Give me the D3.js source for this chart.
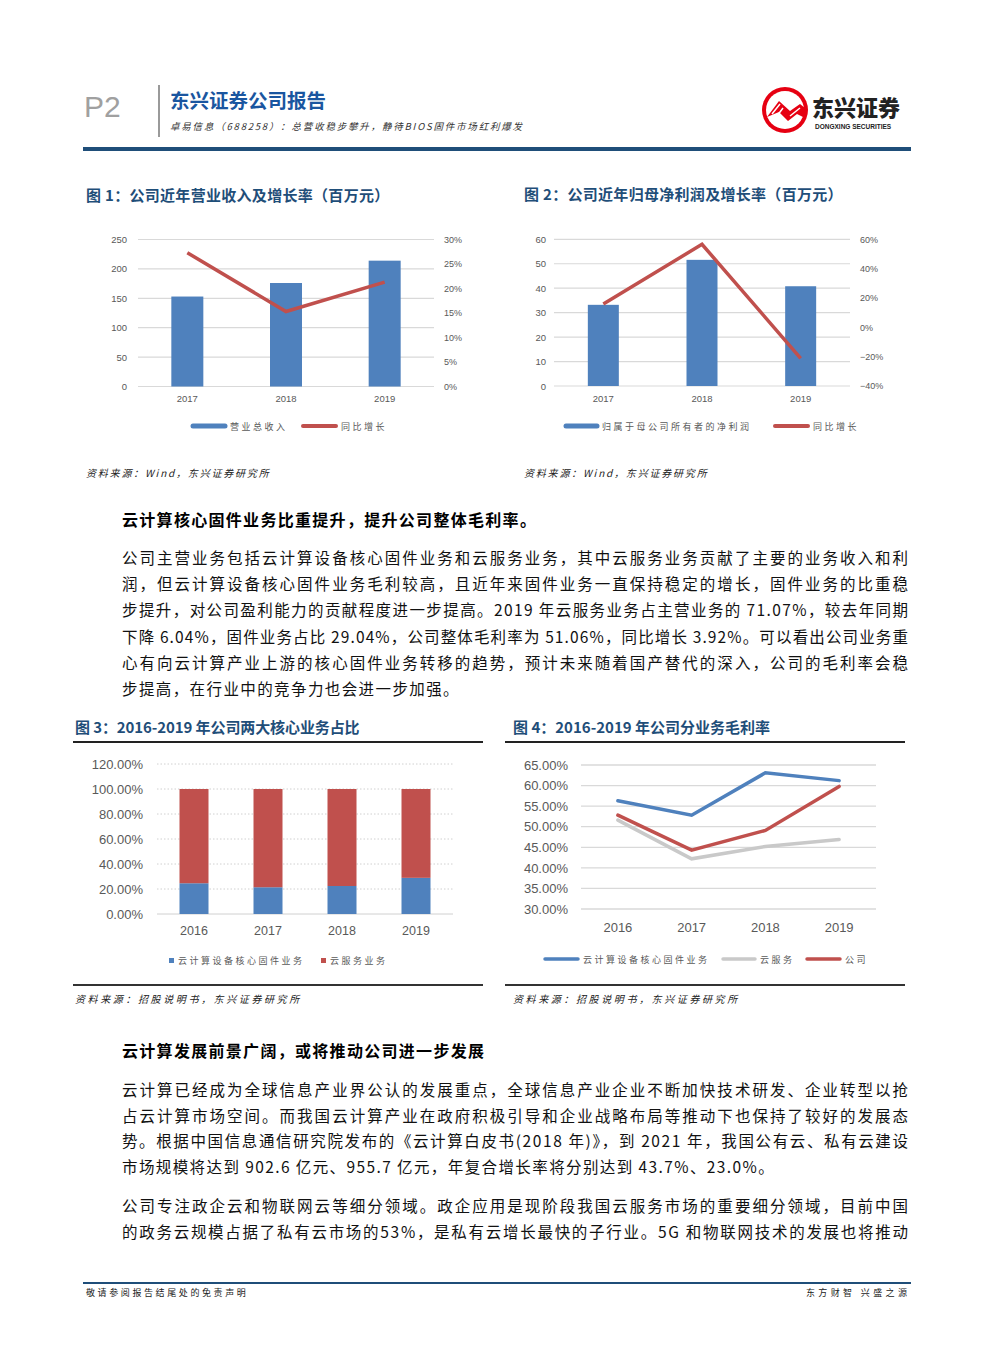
<!DOCTYPE html>
<html><head><meta charset="utf-8">
<script src="https://cdn.jsdelivr.net/npm/d3@7"></script>
<style>
html,body{margin:0;padding:0;background:#fff;}
svg{display:block;}
text{font-family:"Noto Sans CJK SC","Noto Sans",sans-serif;}
</style></head><body>
<svg id="page" width="993" height="1346"></svg>
<script>
// ---------- data ----------
const fig1Years = ["2017", "2018", "2019"];
const fig1Revenue = [153, 176, 214];
const fig1Growth = [27.3, 15.3, 21.3];
const fig1LeftTicks = [0, 50, 100, 150, 200, 250];
const fig1RightTicks = [0, 5, 10, 15, 20, 25, 30];

const fig2Years = ["2017", "2018", "2019"];
const fig2Profit = [33.2, 51.6, 40.8];
const fig2Growth = [15.9, 56.6, -21.1];
const fig2LeftTicks = [0, 10, 20, 30, 40, 50, 60];
const fig2RightTicks = [-40, -20, 0, 20, 40, 60];

const fig3Years = ["2016", "2017", "2018", "2019"];
const fig3Firmware = [24.6, 21.4, 22.4, 28.93];
const fig3Cloud = [75.4, 78.6, 77.6, 71.07];
const fig3Ticks = [0, 20, 40, 60, 80, 100, 120];

const fig4Years = ["2016", "2017", "2018", "2019"];
const fig4Firmware = [56.3, 52.8, 63.1, 61.2];
const fig4Cloud = [51.6, 42.2, 45.2, 46.9];
const fig4Company = [52.8, 44.3, 49.1, 59.8];
const fig4Ticks = [30, 35, 40, 45, 50, 55, 60, 65];

const para1 = [
  "公司主营业务包括云计算设备核心固件业务和云服务业务，其中云服务业务贡献了主要的业务收入和利",
  "润，但云计算设备核心固件业务毛利较高，且近年来固件业务一直保持稳定的增长，固件业务的比重稳",
  "步提升，对公司盈利能力的贡献程度进一步提高。2019 年云服务业务占主营业务的 71.07%，较去年同期",
  "下降 6.04%，固件业务占比 29.04%，公司整体毛利率为 51.06%，同比增长 3.92%。可以看出公司业务重",
  "心有向云计算产业上游的核心固件业务转移的趋势，预计未来随着国产替代的深入，公司的毛利率会稳",
  "步提高，在行业中的竞争力也会进一步加强。"
];
const para2 = [
  "云计算已经成为全球信息产业界公认的发展重点，全球信息产业企业不断加快技术研发、企业转型以抢",
  "占云计算市场空间。而我国云计算产业在政府积极引导和企业战略布局等推动下也保持了较好的发展态",
  "势。根据中国信息通信研究院发布的《云计算白皮书(2018 年)》，到 2021 年，我国公有云、私有云建设",
  "市场规模将达到 902.6 亿元、955.7 亿元，年复合增长率将分别达到 43.7%、23.0%。"
];
const para3 = [
  "公司专注政企云和物联网云等细分领域。政企应用是现阶段我国云服务市场的重要细分领域，目前中国",
  "的政务云规模占据了私有云市场的53%，是私有云增长最快的子行业。5G 和物联网技术的发展也将推动"
];

// ---------- styles ----------
const BLUE = "#4f81bd", RED = "#c0504d", GRAY = "#c9c9c9", NAVY = "#1f4e79";
const LBL = "#595959";

const svg = d3.select("#page");
svg.append("rect").attr("width", 993).attr("height", 1346).attr("fill", "#fff");

// ---------- header ----------
svg.append("text").attr("x", 84).attr("y", 117).attr("font-size", 30).attr("fill", "#a0a0a0")
  .style("font-family", "'Liberation Sans','DejaVu Sans',sans-serif").text("P2");
svg.append("line").attr("x1", 159).attr("x2", 159).attr("y1", 85).attr("y2", 137)
  .attr("stroke", "#9a9a9a").attr("stroke-width", 2);
svg.append("text").attr("x", 170).attr("y", 108).attr("font-size", 19.5).attr("font-weight", 700)
  .attr("fill", "#1a56a0").text("东兴证券公司报告");
svg.append("text").attr("x", 170).attr("y", 130).attr("font-size", 9.5).attr("fill", "#333")
  .style("font-style", "italic").style("letter-spacing", "1.8px")
  .text("卓易信息（688258）：总营收稳步攀升，静待BIOS固件市场红利爆发");
// logo
const logo = svg.append("g");
logo.append("circle").attr("cx", 785).attr("cy", 110).attr("r", 23).attr("fill", "#e60012");
logo.append("circle").attr("cx", 785).attr("cy", 110).attr("r", 19).attr("fill", "#fff");
logo.append("path").attr("d", "M767,117 L779,101 L790,111 L800,104 L805,108 L805,118 L797,114 L788,121 L779,112 Z")
  .attr("fill", "#e60012");
logo.append("path").attr("d", "M772,114 L780,104 M777,116 L783,108 M790,116 L800,108")
  .attr("stroke", "#fff").attr("stroke-width", 1.5);
logo.append("text").attr("x", 812).attr("y", 116).attr("font-size", 22).attr("font-weight", 900)
  .attr("fill", "#222").text("东兴证券");
logo.append("text").attr("x", 815).attr("y", 128.5).attr("font-size", 6.5).attr("font-weight", 700)
  .attr("fill", "#222").style("font-family", "'Liberation Sans',sans-serif").text("DONGXING SECURITIES");
svg.append("rect").attr("x", 83).attr("y", 147).attr("width", 828).attr("height", 4).attr("fill", NAVY);

// ---------- helpers ----------
function title(x, y, t, ls) {
  svg.append("text").attr("x", x).attr("y", y).attr("font-size", 15).attr("font-weight", 700)
    .attr("fill", NAVY).style("letter-spacing", ls + "px").text(t);
}
function source(x, y, t, ls) {
  svg.append("text").attr("x", x).attr("y", y).attr("font-size", 10).attr("fill", "#222")
    .style("font-style", "italic").style("letter-spacing", ls + "px").text(t);
}
function styleAxis(g, size, color) {
  g.select(".domain").remove();
  g.selectAll("line").remove();
  g.selectAll("text").attr("font-size", size).attr("fill", color)
    .style("font-family", "'Liberation Sans','Noto Sans',sans-serif");
}
function legendItem(g, x, y, w, color, label, sw) {
  g.append("line").attr("x1", x).attr("x2", x + w).attr("y1", y).attr("y2", y)
    .attr("stroke", color).attr("stroke-width", sw).attr("stroke-linecap", "round");
  g.append("text").attr("x", x + w + 5).attr("y", y + 3.5).attr("font-size", 9).attr("fill", LBL)
    .style("letter-spacing", "2.5px").text(label);
}

// ---------- figure 1 ----------
(function () {
  title(86, 201, "图 1：公司近年营业收入及增长率（百万元）", 0.3);
  const g = svg.append("g");
  const x = d3.scaleBand().domain(fig1Years).range([138, 434]);
  const yL = d3.scaleLinear().domain([0, 250]).range([386.5, 239.5]);
  const yR = d3.scaleLinear().domain([0, 30]).range([386.5, 239.5]);
  g.selectAll(".grid").data(fig1LeftTicks).join("line")
    .attr("x1", 138).attr("x2", 434).attr("y1", d => yL(d)).attr("y2", d => yL(d))
    .attr("stroke", "#d9d9d9").attr("stroke-width", 1.2);
  const bw = 32;
  g.selectAll(".bar").data(fig1Years).join("rect")
    .attr("x", d => x(d) + x.bandwidth() / 2 - bw / 2).attr("width", bw)
    .attr("y", (d, i) => yL(fig1Revenue[i])).attr("height", (d, i) => yL(0) - yL(fig1Revenue[i]))
    .attr("fill", BLUE);
  g.append("path").datum(fig1Growth)
    .attr("d", d3.line().x((d, i) => x(fig1Years[i]) + x.bandwidth() / 2).y(d => yR(d)))
    .attr("fill", "none").attr("stroke", RED).attr("stroke-width", 3.5);
  const aL = g.append("g").attr("transform", "translate(138,0)")
    .call(d3.axisLeft(yL).tickValues(fig1LeftTicks).tickSize(0).tickPadding(11));
  styleAxis(aL, 9.5, LBL);
  const aR = g.append("g").attr("transform", "translate(434,0)")
    .call(d3.axisRight(yR).tickValues(fig1RightTicks).tickSize(0).tickPadding(10).tickFormat(d => d + "%"));
  styleAxis(aR, 9, LBL);
  const aB = g.append("g").attr("transform", "translate(0,386.5)")
    .call(d3.axisBottom(x).tickSize(0).tickPadding(9));
  styleAxis(aB, 9.5, LBL);
  const lg = svg.append("g");
  legendItem(lg, 193, 426, 32, BLUE, "营业总收入", 5);
  legendItem(lg, 303, 426, 33, RED, "同比增长", 4);
  source(86, 477, "资料来源：Wind，东兴证券研究所", 1.8);
})();

// ---------- figure 2 ----------
(function () {
  title(524, 200, "图 2：公司近年归母净利润及增长率（百万元）", 0.3);
  const g = svg.append("g");
  const x = d3.scaleBand().domain(fig2Years).range([554, 850]);
  const yL = d3.scaleLinear().domain([0, 60]).range([386, 239.3]);
  const yR = d3.scaleLinear().domain([-40, 60]).range([386, 239.3]);
  g.selectAll(".grid").data(fig2LeftTicks).join("line")
    .attr("x1", 554).attr("x2", 850).attr("y1", d => yL(d)).attr("y2", d => yL(d))
    .attr("stroke", "#d9d9d9").attr("stroke-width", 1.2);
  const bw = 31;
  g.selectAll(".bar").data(fig2Years).join("rect")
    .attr("x", d => x(d) + x.bandwidth() / 2 - bw / 2).attr("width", bw)
    .attr("y", (d, i) => yL(fig2Profit[i])).attr("height", (d, i) => yL(0) - yL(fig2Profit[i]))
    .attr("fill", BLUE);
  g.append("path").datum(fig2Growth)
    .attr("d", d3.line().x((d, i) => x(fig2Years[i]) + x.bandwidth() / 2).y(d => yR(d)))
    .attr("fill", "none").attr("stroke", RED).attr("stroke-width", 3.5);
  const aL = g.append("g").attr("transform", "translate(554,0)")
    .call(d3.axisLeft(yL).tickValues(fig2LeftTicks).tickSize(0).tickPadding(8));
  styleAxis(aL, 9.5, LBL);
  const aR = g.append("g").attr("transform", "translate(850,0)")
    .call(d3.axisRight(yR).tickValues(fig2RightTicks).tickSize(0).tickPadding(10)
      .tickFormat(d => (d < 0 ? "−" : "") + Math.abs(d) + "%"));
  styleAxis(aR, 9, LBL);
  const aB = g.append("g").attr("transform", "translate(0,386)")
    .call(d3.axisBottom(x).tickSize(0).tickPadding(9));
  styleAxis(aB, 9.5, LBL);
  const lg = svg.append("g");
  legendItem(lg, 566, 426, 31, BLUE, "归属于母公司所有者的净利润", 5);
  legendItem(lg, 775, 426, 33, RED, "同比增长", 4);
  source(524, 477, "资料来源：Wind，东兴证券研究所", 1.8);
})();

// ---------- body text ----------
function heading(y, t) {
  svg.append("text").attr("x", 122).attr("y", y).attr("font-size", 16).attr("font-weight", 700)
    .attr("fill", "#000").style("letter-spacing", "1.3px").text(t);
}
function paragraph(lines, y0, step, lastJustified) {
  lines.forEach((t, i) => {
    const tx = svg.append("text").attr("x", 122).attr("y", y0 + i * step).attr("font-size", 15.5)
      .attr("fill", "#111").text(t);
    if (i < lines.length - 1 || lastJustified) {
      tx.attr("textLength", 786).attr("lengthAdjust", "spacing");
    } else {
      tx.style("letter-spacing", "1.4px");
    }
  });
}
heading(526, "云计算核心固件业务比重提升，提升公司整体毛利率。");
paragraph(para1, 564, 26.2, false);

// ---------- figure 3 ----------
(function () {
  title(75, 733, "图 3：2016-2019 年公司两大核心业务占比", -0.1);
  svg.append("line").attr("x1", 73).attr("x2", 483).attr("y1", 742).attr("y2", 742)
    .attr("stroke", "#222").attr("stroke-width", 2);
  const g = svg.append("g");
  const x = d3.scaleBand().domain(fig3Years).range([157, 453]);
  const y = d3.scaleLinear().domain([0, 120]).range([914, 764]);
  g.selectAll(".grid").data(fig3Ticks).join("line")
    .attr("x1", 157).attr("x2", 453).attr("y1", d => y(d)).attr("y2", d => y(d))
    .attr("stroke", "#d0d0d0").attr("stroke-width", 1)
    .attr("stroke-dasharray", d => d === 0 ? null : "1.5,2");
  const bw = 29;
  g.selectAll(".b1").data(fig3Years).join("rect")
    .attr("x", d => x(d) + x.bandwidth() / 2 - bw / 2).attr("width", bw)
    .attr("y", (d, i) => y(fig3Firmware[i])).attr("height", (d, i) => y(0) - y(fig3Firmware[i]))
    .attr("fill", BLUE);
  g.selectAll(".b2").data(fig3Years).join("rect")
    .attr("x", d => x(d) + x.bandwidth() / 2 - bw / 2).attr("width", bw)
    .attr("y", (d, i) => y(fig3Firmware[i] + fig3Cloud[i]))
    .attr("height", (d, i) => y(fig3Firmware[i]) - y(fig3Firmware[i] + fig3Cloud[i]))
    .attr("fill", RED);
  const aL = g.append("g").attr("transform", "translate(157,0)")
    .call(d3.axisLeft(y).tickValues(fig3Ticks).tickSize(0).tickPadding(14).tickFormat(d => d.toFixed(2) + "%"));
  styleAxis(aL, 13, LBL);
  const aB = g.append("g").attr("transform", "translate(0,914)")
    .call(d3.axisBottom(x).tickSize(0).tickPadding(12));
  styleAxis(aB, 12.5, LBL);
  const lg = svg.append("g");
  lg.append("rect").attr("x", 169).attr("y", 958).attr("width", 5).attr("height", 5).attr("fill", BLUE);
  lg.append("text").attr("x", 178).attr("y", 964).attr("font-size", 9).attr("fill", LBL)
    .style("letter-spacing", "2.5px").text("云计算设备核心固件业务");
  lg.append("rect").attr("x", 321).attr("y", 958).attr("width", 5).attr("height", 5).attr("fill", RED);
  lg.append("text").attr("x", 330).attr("y", 964).attr("font-size", 9).attr("fill", LBL)
    .style("letter-spacing", "2.5px").text("云服务业务");
  svg.append("line").attr("x1", 73).attr("x2", 483).attr("y1", 985).attr("y2", 985)
    .attr("stroke", "#333").attr("stroke-width", 2);
  source(75, 1003, "资料来源：招股说明书，东兴证券研究所", 2.6);
})();

// ---------- figure 4 ----------
(function () {
  title(513, 733, "图 4：2016-2019 年公司分业务毛利率", 0.0);
  svg.append("line").attr("x1", 505).attr("x2", 905).attr("y1", 742).attr("y2", 742)
    .attr("stroke", "#222").attr("stroke-width", 2);
  const g = svg.append("g");
  const x = d3.scaleBand().domain(fig4Years).range([581, 876]);
  const y = d3.scaleLinear().domain([30, 65]).range([909, 765]);
  g.selectAll(".grid").data(fig4Ticks).join("line")
    .attr("x1", 581).attr("x2", 876).attr("y1", d => y(d)).attr("y2", d => y(d))
    .attr("stroke", "#d9d9d9").attr("stroke-width", 1.3);
  const line = d3.line().x((d, i) => x(fig4Years[i]) + x.bandwidth() / 2).y(d => y(d));
  [[fig4Firmware, BLUE], [fig4Cloud, GRAY], [fig4Company, RED]].forEach(([s, c]) => {
    g.append("path").datum(s).attr("d", line).attr("fill", "none")
      .attr("stroke", c).attr("stroke-width", 3.5).attr("stroke-linecap", "round");
  });
  const aL = g.append("g").attr("transform", "translate(581,0)")
    .call(d3.axisLeft(y).tickValues(fig4Ticks).tickSize(0).tickPadding(13).tickFormat(d => d.toFixed(2) + "%"));
  styleAxis(aL, 13, LBL);
  const aB = g.append("g").attr("transform", "translate(0,909)")
    .call(d3.axisBottom(x).tickSize(0).tickPadding(14));
  styleAxis(aB, 13, LBL);
  const lg = svg.append("g");
  legendItem(lg, 545, 959, 33, BLUE, "云计算设备核心固件业务", 3.5);
  legendItem(lg, 723, 959, 32, GRAY, "云服务", 3.5);
  legendItem(lg, 807, 959, 33, RED, "公司", 3.5);
  svg.append("line").attr("x1", 505).attr("x2", 905).attr("y1", 985).attr("y2", 985)
    .attr("stroke", "#333").attr("stroke-width", 2);
  source(513, 1003, "资料来源：招股说明书，东兴证券研究所", 2.6);
})();

// ---------- second section ----------
heading(1057, "云计算发展前景广阔，或将推动公司进一步发展");
paragraph(para2, 1096, 25.6, false);
paragraph(para3, 1212, 25.6, true);

// ---------- footer ----------
svg.append("line").attr("x1", 83).attr("x2", 911).attr("y1", 1283).attr("y2", 1283)
  .attr("stroke", NAVY).attr("stroke-width", 2);
svg.append("text").attr("x", 86).attr("y", 1296).attr("font-size", 9).attr("fill", "#222")
  .style("letter-spacing", "2.6px").text("敬请参阅报告结尾处的免责声明");
svg.append("text").attr("x", 806).attr("y", 1296).attr("font-size", 9).attr("fill", "#222")
  .attr("textLength", 101).attr("lengthAdjust", "spacing").text("东方财智 兴盛之源");
</script>
</body></html>
